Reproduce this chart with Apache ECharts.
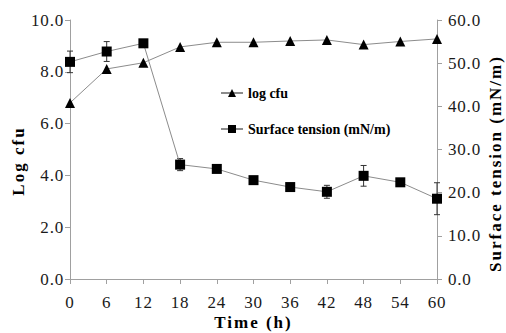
<!DOCTYPE html>
<html><head><meta charset="utf-8">
<script src="https://cdn.jsdelivr.net/npm/echarts@6/dist/echarts.min.js"></script>
<style>html,body{margin:0;padding:0;background:#fff}#c{width:506px;height:333px}</style>
</head><body><div id="c"></div>
<script>
const times = [0, 6, 12, 18, 24, 30, 36, 42, 48, 54, 60];
const logCfu = [6.80, 8.11, 8.35, 8.96, 9.14, 9.14, 9.19, 9.23, 9.05, 9.17, 9.27];
const surfaceTension = [50.3, 52.7, 54.6, 26.5, 25.5, 22.9, 21.3, 20.2, 23.9, 22.4, 18.6];
const surfaceTensionErr = [2.5, 2.3, 0.3, 1.4, 0.4, 0.4, 0.4, 1.5, 2.4, 0.4, 3.7];
const leftTicks = [0, 2, 4, 6, 8, 10];
const rightTicks = [0, 10, 20, 30, 40, 50, 60];
const xName = 'Time (h)';
const leftName = 'Log cfu';
const rightName = 'Surface tension (mN/m)';

const FONT = 'Liberation Serif, serif';
const axisGray = '#a0a0a0';
const chart = echarts.init(document.getElementById('c'), null, {renderer: 'svg'});
const errData = times.map((t, i) => [t, surfaceTension[i] - surfaceTensionErr[i], surfaceTension[i] + surfaceTensionErr[i]]);

chart.setOption({
  animation: false,
  backgroundColor: '#fff',
  grid: {left: 70, right: 69, top: 20, bottom: 54, containLabel: false, outerBoundsMode: 'none'},
  legend: {
    orient: 'vertical', left: 220, top: 86, padding: 0, itemGap: 22, itemWidth: 22, itemHeight: 10,
    textStyle: {fontFamily: FONT, fontWeight: 'bold', fontSize: 14, color: '#000'},
    data: ['log cfu', 'Surface tension (mN/m)']
  },
  xAxis: {
    type: 'value', min: 0, max: 60, interval: 6,
    name: xName, nameLocation: 'middle', nameGap: 35, nameMoveOverlap: false,
    nameTextStyle: {fontFamily: FONT, fontWeight: 'bold', fontSize: 17, color: '#000'},
    axisLine: {lineStyle: {color: axisGray}},
    axisTick: {show: true, inside: false, length: 5, lineStyle: {color: axisGray}},
    axisLabel: {fontFamily: FONT, fontSize: 17, color: '#1a1a1a', margin: 15},
    splitLine: {show: false}
  },
  yAxis: [
    {
      type: 'value', min: 0, max: 10, interval: 2, position: 'left',
      name: leftName, nameLocation: 'middle', nameGap: 43, nameMoveOverlap: false,
      nameTextStyle: {fontFamily: FONT, fontWeight: 'bold', fontSize: 17, color: '#000', padding: [0, 23, 0, 0]},
      axisLine: {show: true, lineStyle: {color: axisGray}},
      axisTick: {show: true, length: 5, lineStyle: {color: axisGray}},
      axisLabel: {fontFamily: FONT, fontSize: 17, color: '#1a1a1a', margin: 6, formatter: v => v.toFixed(1)},
      splitLine: {show: false}
    },
    {
      type: 'value', min: 0, max: 60, interval: 10, position: 'right',
      name: rightName, nameLocation: 'middle', nameGap: 50, nameMoveOverlap: false,
      nameTextStyle: {fontFamily: FONT, fontWeight: 'bold', fontSize: 17, color: '#000', padding: [0, 28, 0, 0]},
      axisLine: {show: true, lineStyle: {color: axisGray}},
      axisTick: {show: true, length: 5, lineStyle: {color: axisGray}},
      axisLabel: {fontFamily: FONT, fontSize: 17, color: '#1a1a1a', margin: 11, formatter: v => v.toFixed(1)},
      splitLine: {show: false}
    }
  ],
  series: [
    {
      name: 'log cfu', type: 'line', yAxisIndex: 0,
      data: times.map((t, i) => [t, logCfu[i]]),
      symbol: 'triangle', symbolSize: 10,
      itemStyle: {color: '#000'},
      lineStyle: {color: '#8c8c8c', width: 1},
      z: 3
    },
    {
      name: 'Surface tension (mN/m)', type: 'line', yAxisIndex: 1,
      data: times.map((t, i) => [t, surfaceTension[i]]),
      symbol: 'rect', symbolSize: 10,
      itemStyle: {color: '#000'},
      lineStyle: {color: '#8c8c8c', width: 1},
      z: 4
    },
    {
      name: 'err', type: 'custom', yAxisIndex: 1,
      data: errData,
      renderItem: function (params, api) {
        const x = api.value(0);
        const lo = api.coord([x, api.value(1)]);
        const hi = api.coord([x, api.value(2)]);
        const w = 3;
        const style = {stroke: '#333', lineWidth: 1, fill: null};
        return {type: 'group', children: [
          {type: 'line', shape: {x1: lo[0], y1: lo[1], x2: hi[0], y2: hi[1]}, style},
          {type: 'line', shape: {x1: lo[0] - w, y1: lo[1], x2: lo[0] + w, y2: lo[1]}, style},
          {type: 'line', shape: {x1: hi[0] - w, y1: hi[1], x2: hi[0] + w, y2: hi[1]}, style}
        ]};
      },
      z: 2
    }
  ]
});

function spaceText() {
  document.querySelectorAll('#c text').forEach(el => {
    const t = el.textContent.trim();
    const r = el.getBoundingClientRect();
    const rotated = r.height > r.width;
    if (t === xName || ((t === leftName || t === rightName) && rotated)) el.setAttribute('letter-spacing', '2');
    else if (/^\d+(\.\d)?$/.test(t)) el.setAttribute('letter-spacing', '0.8');
  });
}
spaceText();
chart.on('finished', spaceText);
setTimeout(spaceText, 0);
</script></body></html>
